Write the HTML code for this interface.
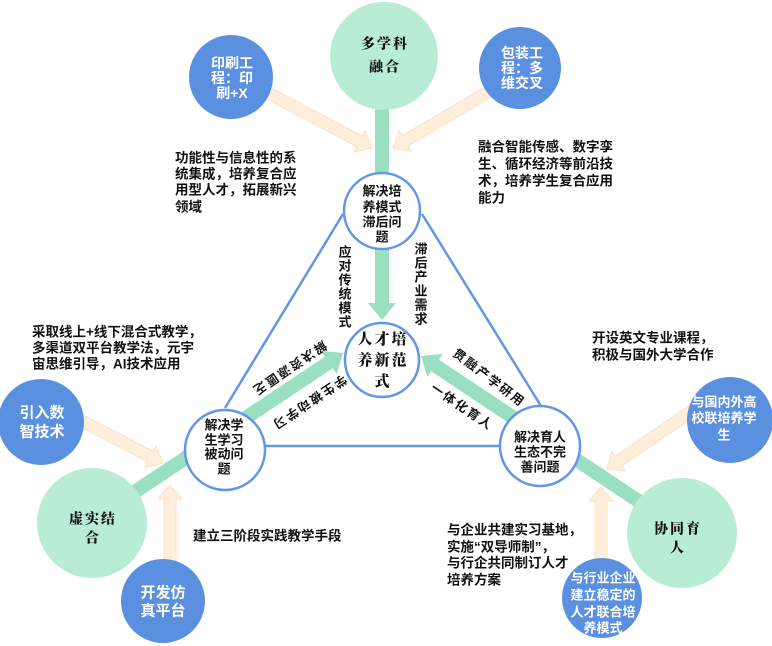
<!DOCTYPE html>
<html><head><meta charset="utf-8"><style>
html,body{margin:0;padding:0;background:#fff;}
svg{display:block;}
.p{font-family:"Liberation Sans","Noto Sans CJK SC",sans-serif;font-weight:bold;font-size:13.5px;fill:#111;}
.w{font-family:"Liberation Sans","Noto Sans CJK SC",sans-serif;font-weight:bold;font-size:14px;fill:#fff;}
.c{font-family:"Liberation Sans","Noto Sans CJK SC",sans-serif;font-size:13px;fill:#111;font-weight:bold;}
.k{font-family:"Liberation Serif","Noto Serif CJK SC",serif;font-weight:900;font-size:14px;fill:#111;}
</style></head><body>
<svg width="772" height="646" viewBox="0 0 772 646" xmlns="http://www.w3.org/2000/svg">
<!-- orange arrows -->
<g fill="#feeedb" stroke="#fce3c6" stroke-width="1">
<path transform="translate(372,148) rotate(27.9)" d="M-118,-6 L-14,-6 L-14,-12 L0,0 L-14,12 L-14,6 L-118,6 Z"/>
<path transform="translate(393,148) rotate(149.5)" d="M-110,-6 L-14,-6 L-14,-12 L0,0 L-14,12 L-14,6 L-110,6 Z"/>
<path transform="translate(163,463) rotate(27.4)" d="M-93,-6 L-14,-6 L-14,-12 L0,0 L-14,12 L-14,6 L-93,6 Z"/>
<path transform="translate(170,485) rotate(-90)" d="M-78,-6 L-14,-6 L-14,-12 L0,0 L-14,12 L-14,6 L-78,6 Z"/>
<path transform="translate(607,469) rotate(145.7)" d="M-103,-6 L-14,-6 L-14,-12 L0,0 L-14,12 L-14,6 L-103,6 Z"/>
<path transform="translate(601,487) rotate(-90)" d="M-80,-6 L-14,-6 L-14,-12 L0,0 L-14,12 L-14,6 L-80,6 Z"/>
</g>
<!-- green arrows -->
<g fill="#9adfc1">
<path transform="translate(382,320) rotate(90)" d="M-215,-7 L-17,-7 L-17,-14 L0,0 L-17,14 L-17,7 L-215,7 Z"/>
<path transform="translate(343,353) rotate(-33.7)" d="M-275,-7 L-17,-7 L-17,-14 L0,0 L-17,14 L-17,7 L-275,7 Z"/>
<path transform="translate(421,356) rotate(-146.3)" d="M-275,-7 L-17,-7 L-17,-14 L0,0 L-17,14 L-17,7 L-275,7 Z"/>
</g>
<!-- triangle -->
<g stroke="#6296e6" stroke-width="2.5" fill="none">
<line x1="225" y1="408" x2="343" y2="214"/>
<line x1="422" y1="214" x2="541" y2="406"/>
<line x1="264" y1="446" x2="500" y2="446"/>
</g>
<!-- green circles -->
<g fill="#b8ecd5">
<circle cx="384" cy="56" r="54"/>
<circle cx="92" cy="523" r="55"/>
<circle cx="682" cy="533" r="55"/>
</g>
<!-- blue circles -->
<g fill="#5b8fe0">
<circle cx="231" cy="77" r="42"/>
<circle cx="520" cy="68" r="41"/>
<circle cx="41" cy="422" r="43"/>
<circle cx="163" cy="601" r="42"/>
<circle cx="730" cy="420" r="43"/>
<circle cx="602" cy="598" r="40"/>
</g>
<!-- white circles -->
<g fill="#fff" stroke="#6296e6" stroke-width="2.5">
<circle cx="382" cy="211" r="38"/>
<circle cx="382" cy="360" r="37"/>
<circle cx="225" cy="450" r="40"/>
<circle cx="540" cy="446" r="40"/>
</g>

<!-- blue circle text -->
<g class="w" text-anchor="middle" dominant-baseline="central">
<text x="232" y="63">印刷工</text>
<text x="232" y="78">程：印</text>
<text x="232" y="93">刷+X</text>
<text x="522" y="53">包装工</text>
<text x="522" y="68">程：多</text>
<text x="522" y="83">维交叉</text>
<text x="42" y="413" style="font-size:15px">引入数</text>
<text x="42" y="432" style="font-size:15px">智技术</text>
<text x="163" y="593" style="font-size:15px">开发仿</text>
<text x="163" y="611" style="font-size:15px">真平台</text>
<text x="724" y="402" style="font-size:13px">与国内外高</text>
<text x="724" y="418" style="font-size:13px">校联培养学</text>
<text x="724" y="435" style="font-size:13px">生</text>
<text x="603" y="578" style="font-size:13px">与行业企业</text>
<text x="603" y="595" style="font-size:13px">建立稳定的</text>
<text x="603" y="612" style="font-size:13px">人才联合培</text>
<text x="603" y="628" style="font-size:13px">养模式</text>
</g>

<!-- green circle text -->
<g class="k" text-anchor="middle" dominant-baseline="central" letter-spacing="2">
<text x="385" y="45">多学科</text>
<text x="385" y="68">融合</text>
<text x="93" y="520">虚实结</text>
<text x="93" y="539">合</text>
<text x="678" y="530">协同育</text>
<text x="678" y="549">人</text>
<text x="383" y="340" style="font-size:15px">人才培</text>
<text x="383" y="361" style="font-size:15px">养新范</text>
<text x="383" y="382" style="font-size:15px">式</text>
</g>

<!-- white circle text -->
<g class="c" text-anchor="middle" dominant-baseline="central">
<text x="382" y="191">解决培</text>
<text x="382" y="207">养模式</text>
<text x="382" y="222">滞后问</text>
<text x="382" y="237">题</text>
<text x="224" y="425">解决学</text>
<text x="224" y="440">生学习</text>
<text x="224" y="454">被动问</text>
<text x="224" y="469">题</text>
<text x="540" y="437">解决育人</text>
<text x="540" y="452">生态不完</text>
<text x="540" y="467">善问题</text>
</g>

<!-- vertical labels -->
<g class="c" text-anchor="middle" dominant-baseline="central">
<text x="345" y="252">应</text><text x="345" y="266">对</text><text x="345" y="280">传</text><text x="345" y="294">统</text><text x="345" y="308">模</text><text x="345" y="322">式</text>
<text x="421" y="249">滞</text><text x="421" y="263">后</text><text x="421" y="277">产</text><text x="421" y="291">业</text><text x="421" y="305">需</text><text x="421" y="319">求</text>
</g>

<!-- rotated arrow labels -->
<g class="c" text-anchor="middle" dominant-baseline="central" style="font-size:12.5px" letter-spacing="2">
<text transform="translate(289,368) rotate(146)">解决资源匮乏</text>
<text transform="translate(309,402) rotate(146)">学生被动学习</text>
<text transform="translate(489,378) rotate(37)">贯融产学研用</text>
<text transform="translate(462,407) rotate(34)">一体化育人</text>
</g>

<!-- paragraphs -->
<g class="p" dominant-baseline="central">
<text x="175" y="158">功能性与信息性的系</text>
<text x="175" y="174">统集成，培养复合应</text>
<text x="175" y="190">用型人才，拓展新兴</text>
<text x="175" y="207">领域</text>
<text x="478" y="147">融合智能传感、数字孪</text>
<text x="478" y="164">生、循环经济等前沿技</text>
<text x="478" y="181">术，培养学生复合应用</text>
<text x="478" y="198">能力</text>
<text x="32" y="332">采取线上+线下混合式教学，</text>
<text x="32" y="348">多渠道双平台教学法，元宇</text>
<text x="32" y="364">宙思维引导，AI技术应用</text>
<text x="193" y="536">建立三阶段实践教学手段</text>
<text x="592" y="338">开设英文专业课程，</text>
<text x="592" y="355">积极与国外大学合作</text>
<text x="447" y="530">与企业共建实习基地，</text>
<text x="447" y="547">实施“双导师制”，</text>
<text x="447" y="563">与行企共同制订人才</text>
<text x="447" y="580">培养方案</text>
</g>
</svg>
</body></html>
